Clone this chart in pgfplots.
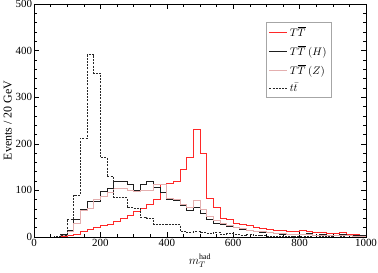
\documentclass[border=0pt]{standalone}
\usepackage{fontspec}
\setmainfont{Liberation Serif}
\usepackage{pgfplots}
\pgfplotsset{compat=1.18}
\definecolor{cT}{RGB}{255,40,40}
\definecolor{cZ}{RGB}{228,175,175}
\definecolor{cH}{RGB}{30,30,30}
\definecolor{ctt}{RGB}{40,40,40}
\begin{document}
\begin{tikzpicture}
\begin{axis}[
  name=ax,
  scale only axis,
  width=332bp, height=233bp,
  xmin=0, xmax=1000, ymin=0, ymax=500,
  xtick distance=200, ytick distance=100,
  minor x tick num=3, minor y tick num=4,
  tick align=inside,
  major tick length=5bp, minor tick length=3bp,
  axis line style={line width=0.7pt},
  tick style={line width=0.6pt, black},
  /pgf/number format/assume math mode=true,
  /pgf/number format/1000 sep={},
  ticklabel style={font=\fontsize{11}{13}\selectfont},
  xticklabel style={yshift=1.5bp},
  yticklabel style={xshift=1.5bp},
  xlabel={$m_T^{\mathrm{had}}$},
  ylabel={Events / 20 GeV},
  xlabel style={yshift=-1bp, font=\fontsize{12}{14}\selectfont},
  ylabel style={yshift=-3bp, font=\fontsize{12}{14}\selectfont},
  legend style={at={(0.699,0.923)}, anchor=north west, draw=gray!70, line width=0.8pt,
    font=\fontsize{10.5}{12}\selectfont, row sep=4bp, inner sep=2.5pt},
  legend cell align=left,
  legend image code/.code={\draw[#1] (0bp,0bp) -- (18bp,0bp);},
  every axis plot/.append style={line width=0.8pt, const plot},
]
\addplot[cT] coordinates {
(0,0)(20,0)(40,0)(60,0)(80,1)(100,3)(120,6)(140,12)(160,16)(180,20)(200,24)(220,28)(240,33)(260,40)(280,47)(300,54)(320,62)(340,70)(360,81)(380,112)(400,115)(420,120)(440,144)(460,171)(480,231)(500,180)(520,82)(540,64)(560,39)(580,37)(600,30)(620,28)(640,24)(660,21)(680,18)(700,16)(720,14)(740,15)(760,12)(780,11)(800,14)(820,12)(840,10)(860,10)(880,8)(900,7)(920,9)(940,6)(960,5)(980,4)(1000,4)};
\addlegendentry{$T\overline{T}$}
\addplot[cH] coordinates {
(0,0)(20,0)(40,0)(60,0)(80,5)(100,15)(120,38)(140,59)(160,77)(180,77)(200,97)(220,105)(240,119)(260,119)(280,112)(300,99)(320,112)(340,119)(360,106)(380,96)(400,80)(420,79)(440,67)(460,58)(480,64)(500,51)(520,38)(540,29)(560,27)(580,22)(600,20)(620,17)(640,15)(660,12)(680,10)(700,9)(720,8)(740,6)(760,5)(780,6)(800,5)(820,7)(840,4)(860,5)(880,4)(900,3)(920,5)(940,4)(960,3)(980,3)(1000,3)};
\addlegendentry{$T\overline{T}$ $(H)$}
\addplot[cZ] coordinates {
(0,0)(20,0)(40,0)(60,0)(80,3)(100,12)(120,30)(140,58)(160,62)(180,80)(200,88)(220,96)(240,105)(260,104)(280,100)(300,97)(320,100)(340,99)(360,112)(380,112)(400,82)(420,80)(440,70)(460,64)(480,78)(500,60)(520,45)(540,36)(560,30)(580,25)(600,20)(620,18)(640,15)(660,13)(680,11)(700,9)(720,8)(740,7)(760,6)(780,6)(800,5)(820,5)(840,4)(860,4)(880,4)(900,3)(920,3)(940,3)(960,2)(980,2)(1000,2)};
\addlegendentry{$T\overline{T}$ $(Z)$}
\addplot[ctt, dash pattern=on 2bp off 1.2bp] coordinates {
(0,0)(20,0)(40,0)(60,1)(80,3)(100,38)(120,90)(140,212)(160,391)(180,352)(200,171)(220,129)(240,86)(260,84)(280,64)(300,62)(320,42)(340,40)(360,28)(380,27)(400,27)(420,26)(440,12)(460,10)(480,11)(500,9)(520,8)(540,10)(560,6)(580,7)(600,5)(620,4)(640,5)(660,3)(680,4)(700,2)(720,2)(740,1)(760,2)(780,1)(800,1)(820,1)(840,0)(860,1)(880,1)(900,0)(920,1)(940,0)(960,0)(980,0)(1000,0)};
\addlegendentry{$t\bar{t}$}
\end{axis}
\pgfresetboundingbox
\path ([shift={(-34bp,-36bp)}]ax.south west) rectangle ([shift={(12bp,4bp)}]ax.north east);
\end{tikzpicture}
\end{document}
